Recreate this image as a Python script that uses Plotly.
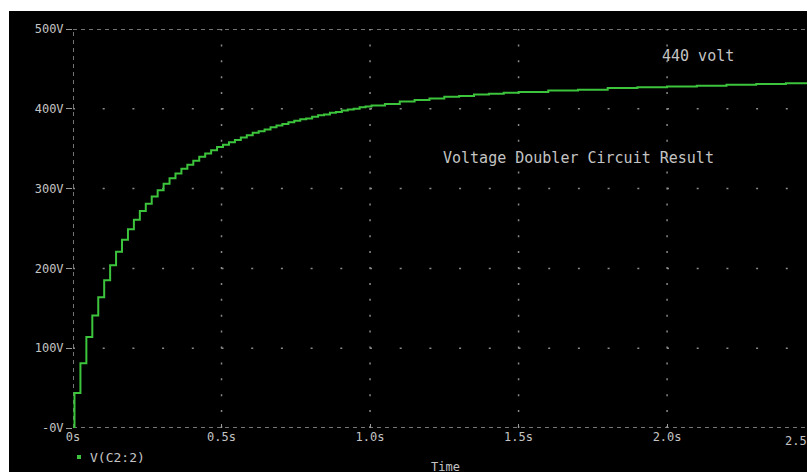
import plotly.graph_objects as go

# ---- data ----
time_s = [0.000, 0.005, 0.025, 0.045, 0.065, 0.085, 0.105, 0.125, 0.145, 0.165,
          0.185, 0.205, 0.225, 0.245, 0.265, 0.285, 0.305, 0.325, 0.345, 0.365,
          0.385, 0.405, 0.425, 0.445, 0.465, 0.485, 0.505, 0.525, 0.545, 0.565,
          0.585, 0.605, 0.625, 0.645, 0.665, 0.685, 0.705, 0.725, 0.745, 0.765,
          0.785, 0.805, 0.825, 0.845, 0.865, 0.885, 0.905, 0.925, 0.945, 0.965,
          0.985, 1.005, 1.05, 1.10, 1.15, 1.20, 1.25, 1.30, 1.35, 1.40,
          1.45, 1.50, 1.60, 1.70, 1.80, 1.90, 2.00, 2.10, 2.20, 2.30,
          2.40, 2.50]
v_c2 = [0, 44, 81, 114, 141, 164, 185, 204, 221, 236,
        249, 261, 272, 281, 290, 298, 306, 313, 319, 325,
        330, 335, 340, 344, 348, 352, 355, 358, 361, 364,
        367, 370, 372, 374, 377, 379, 381, 383, 385, 387,
        388, 390, 392, 393, 395, 396, 398, 399, 400, 402,
        403, 404, 406, 409, 411, 413, 415, 416, 418, 419,
        420, 421, 423, 424, 426, 427, 428, 429, 430, 431,
        432, 433]

y_ticks = [0, 100, 200, 300, 400, 500]
y_labels = ["-0V", "100V", "200V", "300V", "400V", "500V"]
x_ticks = [0, 0.5, 1.0, 1.5, 2.0, 2.5]
x_labels = ["0s", "0.5s", "1.0s", "1.5s", "2.0s", "2.5s"]
trace_name = "V(C2:2)"
x_title = "Time"
note_top = "440 volt"
note_mid = "Voltage Doubler Circuit Result"

X_MAX = 2.471
Y_MAX = 500

MONO = "DejaVu Sans Mono"
GRAY = "#c4c4c4"
GREEN = "#3cc43c"

# figure layout (page margin removed, figure fills the window)
W, H = 807, 472
ML, MT, MB, MR = 73, 29, 44, 0
PW, PH = W - ML - MR, H - MT - MB


def px(X):
    return (X - ML) / PW


def py(Y):
    return (H - MB - Y) / PH


fig = go.Figure()
fig.add_trace(go.Scatter(
    x=time_s, y=v_c2, mode="lines", line=dict(color=GREEN, width=2, shape="hv"),
    name=trace_name, showlegend=False, hoverinfo="skip",
))

shapes = []
# white strips at the top and left of the screenshot
shapes.append(dict(type="rect", xref="paper", yref="paper", x0=-0.2, x1=1.1,
                   y0=py(11), y1=1.2, fillcolor="white", line_width=0, layer="above"))
shapes.append(dict(type="rect", xref="paper", yref="paper", x0=-0.2, x1=px(9),
                   y0=-0.2, y1=1.2, fillcolor="white", line_width=0, layer="above"))
# dotted grid
for yv in y_ticks[1:-1]:
    shapes.append(dict(type="line", xref="x", yref="y", x0=0, x1=X_MAX, y0=yv, y1=yv,
                       line=dict(color="#8a8a8a", width=1.5, dash="2px,27.7px"), layer="below"))
for xv in x_ticks[1:-1]:
    shapes.append(dict(type="line", xref="x", yref="y", x0=xv, x1=xv, y0=0, y1=Y_MAX,
                       line=dict(color="#8a8a8a", width=1.5, dash="2px,13.9px"), layer="below"))
# dashed frame lines
frame = dict(color="#9a9a9a", width=1.5, dash="4px,4px")
shapes.append(dict(type="line", xref="x", yref="y", x0=0, x1=X_MAX, y0=0, y1=0, line=frame, layer="below"))
shapes.append(dict(type="line", xref="x", yref="y", x0=0, x1=X_MAX, y0=Y_MAX, y1=Y_MAX, line=frame, layer="below"))
shapes.append(dict(type="line", xref="x", yref="y", x0=0, x1=0, y0=0, y1=Y_MAX, line=frame, layer="below"))
# legend marker
shapes.append(dict(type="rect", xref="paper", yref="paper",
                   x0=px(77), x1=px(81), y0=py(459), y1=py(455),
                   fillcolor=GREEN, line_width=0))

annotations = [
    dict(text=note_top, x=px(660), y=py(56), xref="paper", yref="paper",
         xanchor="left", yanchor="middle", showarrow=False, font=dict(family=MONO, size=15, color=GRAY)),
    dict(text=note_mid, x=px(441), y=py(158), xref="paper", yref="paper",
         xanchor="left", yanchor="middle", showarrow=False, font=dict(family=MONO, size=15, color=GRAY)),
    dict(text=trace_name, x=px(88), y=py(457), xref="paper", yref="paper",
         xanchor="left", yanchor="middle", showarrow=False, font=dict(family=MONO, size=13, color=GRAY)),
    dict(text=x_title, x=px(445), y=py(467), xref="paper", yref="paper",
         xanchor="center", yanchor="middle", showarrow=False, font=dict(family=MONO, size=12, color=GRAY)),
    # last tick label, shifted left to fit as in the reference
    dict(text=x_labels[-1], x=px(783), y=py(441), xref="paper", yref="paper",
         xanchor="left", yanchor="middle", showarrow=False, font=dict(family=MONO, size=12, color=GRAY)),
]

fig.update_layout(
    width=W, height=H,
    margin=dict(l=ML, r=MR, t=MT, b=MB, pad=0),
    paper_bgcolor="black", plot_bgcolor="black",
    showlegend=False, hovermode=False,
    shapes=shapes, annotations=annotations,
    xaxis=dict(range=[0, X_MAX], tickvals=x_ticks[:-1], ticktext=x_labels[:-1], showgrid=False,
               zeroline=False, showline=False, ticks="inside", ticklen=4, tickcolor="#9a9a9a",
               tickfont=dict(family=MONO, size=12, color=GRAY), fixedrange=True),
    yaxis=dict(range=[0, Y_MAX], tickvals=y_ticks, ticktext=y_labels, showgrid=False,
               zeroline=False, showline=False, ticks="outside", ticklen=6, tickcolor="#9a9a9a",
               tickfont=dict(family=MONO, size=12, color=GRAY), fixedrange=True),
)

fig.write_html("out.html",
               config={"displayModeBar": False, "staticPlot": True},
               post_script="document.body.style.margin='0';"
                           "document.body.style.overflow='hidden';"
                           "document.documentElement.style.overflow='hidden';")
